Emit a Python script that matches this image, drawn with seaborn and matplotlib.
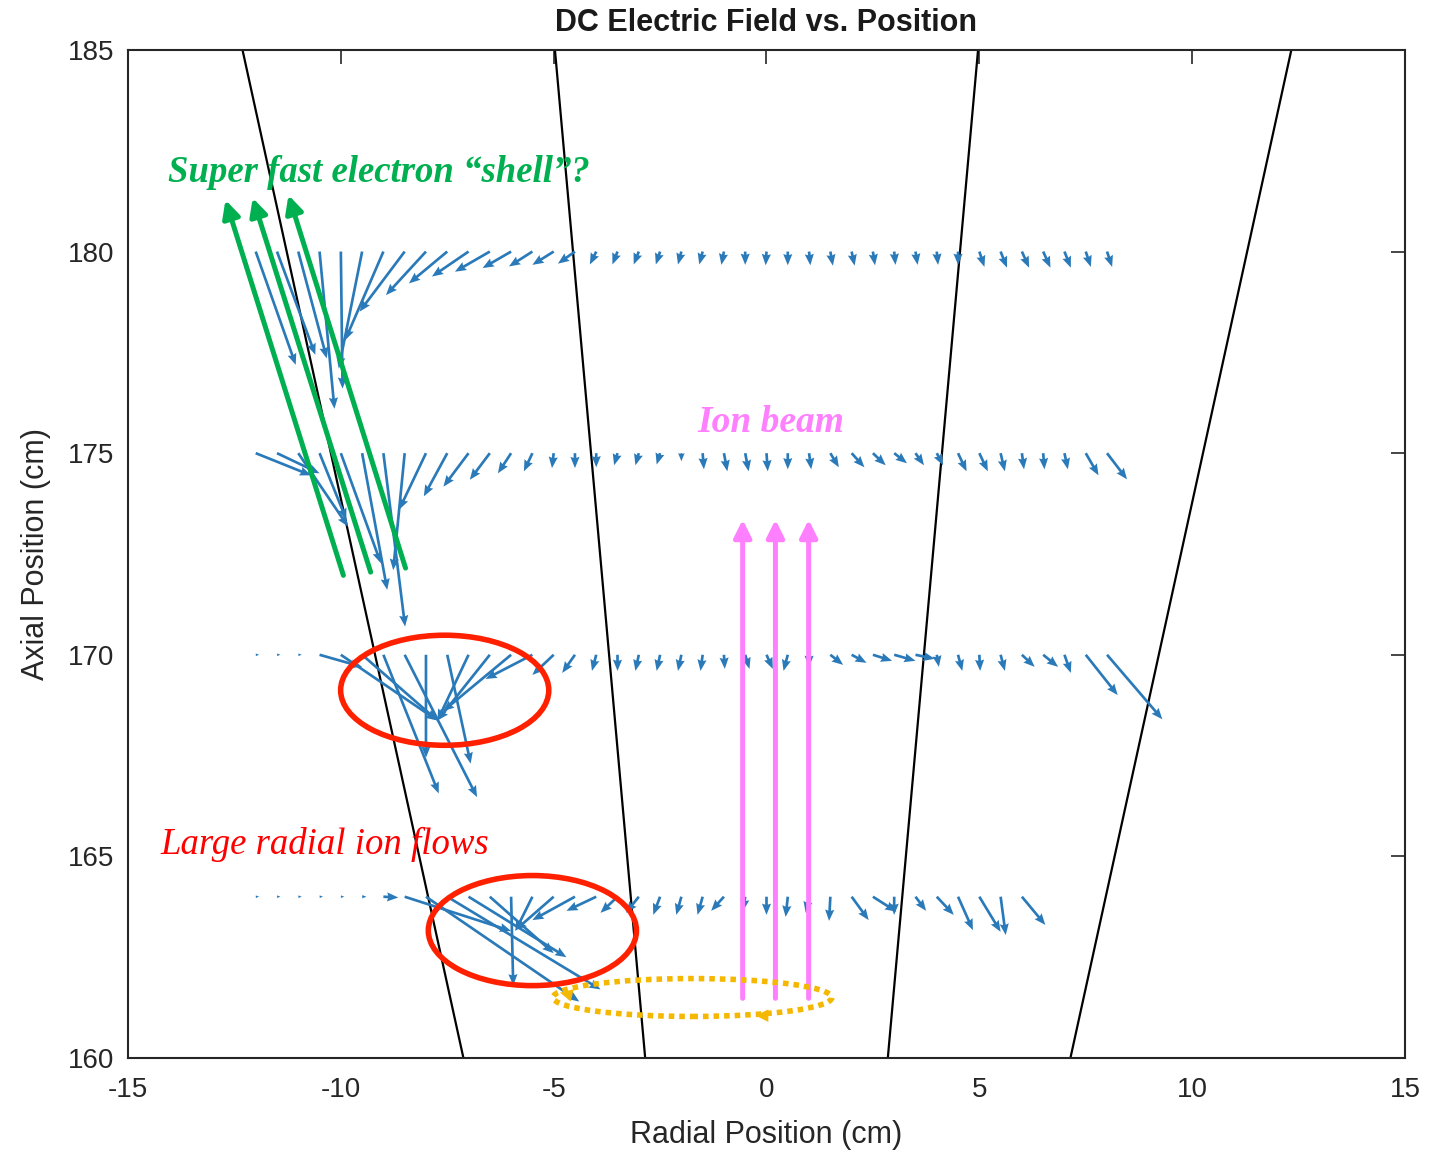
import numpy as np
import pandas as pd
import matplotlib
matplotlib.use("Agg")
import matplotlib.pyplot as plt
from matplotlib.patches import Ellipse
import seaborn as sns

# ---------------- data ----------------
x_grid = [-12.0, -11.5, -11.0, -10.5, -10.0, -9.5, -9.0, -8.5, -8.0, -7.5, -7.0,
          -6.5, -6.0, -5.5, -5.0, -4.5, -4.0, -3.5, -3.0, -2.5, -2.0, -1.5, -1.0,
          -0.5, 0.0, 0.5, 1.0, 1.5, 2.0, 2.5, 3.0, 3.5, 4.0, 4.5, 5.0, 5.5, 6.0,
          6.5, 7.0, 7.5, 8.0]
x_grid_164 = x_grid[:37]

u_180 = [0.94, 0.90, 0.67, 0.35, 0.04, -0.55, -0.90, -1.06, -0.94, -0.90, -0.86,
         -0.82, -0.67, -0.55, -0.50, -0.40, -0.15, -0.12, -0.12, -0.10, -0.08, -0.08, -0.06,
         0.00, -0.02, 0.00, 0.03, 0.06, 0.07, 0.05, 0.03, 0.05, 0.03, 0.00, 0.12, 0.15, 0.17,
         0.17, 0.15, 0.12, 0.12]
v_180 = [-2.81, -2.56, -2.65, -3.90, -3.40, -2.90, -2.20, -1.49, -1.08, -0.79, -0.62,
         -0.50, -0.41, -0.37, -0.33, -0.30, -0.32, -0.32, -0.32, -0.32, -0.32, -0.32, -0.33,
         -0.33, -0.34, -0.34, -0.34, -0.35, -0.35, -0.34, -0.33, -0.33, -0.33, -0.33, -0.38, -0.40, -0.40,
         -0.40, -0.40, -0.38, -0.38]

u_175 = [1.30, 1.00, 1.17, 0.63, 0.94, 0.59, 0.51, -0.27, -0.63, -0.55, -0.59,
         -0.47, -0.31, -0.20, -0.04, 0.00, 0.00, -0.08, -0.08, -0.08, 0.00, 0.03, 0.08,
         0.08, 0.03, 0.00, 0.05, 0.20, 0.30, 0.30, 0.30, 0.20, 0.15, 0.20, 0.20, 0.10, 0.05,
         0.03, 0.08, 0.30, 0.47]
v_175 = [-0.55, -0.50, -1.82, -1.65, -2.73, -3.39, -4.30, -2.90, -1.40, -1.07, -0.83,
         -0.66, -0.50, -0.45, -0.37, -0.37, -0.35, -0.30, -0.30, -0.28, -0.20, -0.40, -0.45,
         -0.45, -0.45, -0.40, -0.40, -0.35, -0.35, -0.30, -0.25, -0.30, -0.30, -0.45, -0.45, -0.45, -0.40,
         -0.40, -0.40, -0.55, -0.65]

u_170 = [0.08, 0.08, 0.08, 1.00, 2.27, 1.77, 1.30, 1.70, 0.00, 0.55, -0.73,
         -1.23, -1.60, -1.10, -0.50, -0.30, -0.10, 0.00, -0.08, -0.08, -0.08, -0.05, 0.02,
         0.10, 0.15, -0.10, 0.00, 0.30, 0.35, 0.45, 0.50, 0.45, 0.05, 0.10, 0.02, 0.10, 0.30,
         0.35, 0.15, 0.75, 1.30]
v_170 = [0.00, 0.00, 0.00, -0.30, -1.63, -1.63, -3.44, -3.53, -2.55, -2.70, -1.63,
         -1.63, -1.40, -0.60, -0.50, -0.45, -0.40, -0.40, -0.40, -0.40, -0.40, -0.40, -0.35,
         -0.35, -0.35, -0.40, -0.30, -0.25, -0.20, -0.15, -0.15, -0.10, -0.30, -0.40, -0.40, -0.40, -0.30,
         -0.30, -0.45, -1.00, -1.60]

u_164 = [0.08, 0.08, 0.08, 0.08, 0.08, 0.10, 0.35, 2.50, 3.60, 3.60, 2.30,
         1.50, 0.05, -0.40, -0.90, -1.00, -0.70, -0.40, -0.30, -0.16, -0.12, -0.12, -0.30,
         -0.05, 0.00, -0.05, -0.08, -0.03, 0.40, 0.55, 0.00, 0.25, 0.40, 0.35, 0.50, 0.12, 0.55]
v_164 = [0.00, 0.00, 0.00, 0.00, 0.00, 0.00, -0.02, -0.85, -2.60, -2.30, -1.50,
         -1.40, -2.20, -0.85, -0.83, -0.58, -0.35, -0.40, -0.40, -0.45, -0.45, -0.45, -0.35,
         -0.35, -0.45, -0.50, -0.40, -0.60, -0.58, -0.37, -0.45, -0.35, -0.45, -0.83, -0.87, -0.95, -0.70]

row_y = [180, 175, 170, 164]

# boundary (flux) lines: x at y=185 and y=160
line_y = [185, 160]
line1_x = [-12.31, -7.12]
line2_x = [-4.97, -2.85]
line3_x = [4.97, 2.85]
line4_x = [12.33, 7.14]

x_ticks = [-15, -10, -5, 0, 5, 10, 15]
y_ticks = [160, 165, 170, 175, 180, 185]

# ---------------- figure ----------------
sns.set_theme(style="white")
plt.rcParams['font.family'] = ['Liberation Sans', 'DejaVu Sans']

fig = plt.figure(figsize=(14.48, 11.51), dpi=100)
ax = fig.add_axes([0.0884, 0.0808, 0.8819, 0.8758])

# black lines via seaborn
for i, lx in enumerate([line1_x, line2_x, line3_x, line4_x]):
    df = pd.DataFrame({"x": lx, "y": line_y})
    sns.lineplot(data=df, x="x", y="y", ax=ax, color="black", lw=1.6,
                 sort=False, estimator=None)

# quiver rows
qcol = "#2a7ab9"
rows = [(x_grid, u_180, v_180, row_y[0]),
        (x_grid, u_175, v_175, row_y[1]),
        (x_grid, u_170, v_170, row_y[2]),
        (x_grid_164, u_164, v_164, row_y[3])]
for xs, us, vs, yv in rows:
    ys = [yv] * len(xs)
    ax.quiver(xs, ys, us, vs, angles="xy", scale_units="xy", scale=1,
              color=qcol, width=0.0021, headwidth=3.4, headlength=4.2,
              headaxislength=3.8, pivot="tail", zorder=3)

ax.set_xlim(-15, 15)
ax.set_ylim(160, 185)
ax.set_xticks(x_ticks)
ax.set_yticks(y_ticks)
ax.set_xticklabels([str(t) for t in x_ticks])
ax.set_yticklabels([str(t) for t in y_ticks])
ax.tick_params(axis="x", pad=14)
ax.tick_params(axis="y", pad=10)
ax.tick_params(direction="in", top=True, right=True, length=10, width=1.2,
               labelsize=20, colors="#262626")
for sp in ax.spines.values():
    sp.set_color("#262626")
    sp.set_linewidth(1.5)

ax.set_xlabel("Radial Position (cm)", fontsize=22, color="#262626", labelpad=12)
ax.set_ylabel("Axial Position (cm)", fontsize=22, color="#262626", labelpad=12)
ax.set_title("DC Electric Field vs. Position", fontsize=22, fontweight="bold",
             color="#1a1a1a", pad=14)

# ---------------- annotations ----------------
green = "#00B050"
pink = "#FF80FF"
red = "#FF2000"
gold = "#F5B800"

green_arrows = [((-9.94, 171.97), (-12.71, 181.28)),
                ((-9.30, 172.05), (-12.07, 181.33)),
                ((-8.48, 172.15), (-11.23, 181.40))]
for (x0, y0), (x1, y1) in green_arrows:
    ax.annotate("", xy=(x1, y1), xytext=(x0, y0),
                arrowprops=dict(arrowstyle="-|>", lw=3.6, color=green,
                                mutation_scale=26, shrinkA=0, shrinkB=0), zorder=5)

pink_x = [-0.56, 0.21, 0.99]
for px in pink_x:
    ax.annotate("", xy=(px, 173.35), xytext=(px, 161.48),
                arrowprops=dict(arrowstyle="-|>", lw=3.6, color=pink,
                                mutation_scale=26, shrinkA=0, shrinkB=0), zorder=5)

ax.add_patch(Ellipse((-7.56, 169.12), 4.89, 2.73, fill=False, ec=red, lw=4.0, zorder=6))
ax.add_patch(Ellipse((-5.50, 163.16), 4.89, 2.73, fill=False, ec=red, lw=4.0, zorder=6))
ax.add_patch(Ellipse((-1.74, 161.50), 6.55, 0.94, fill=False, ec=gold, lw=4.0,
                     ls=(0, (1.0, 0.9)), zorder=6))
ax.annotate("", xy=(-4.85, 161.62), xytext=(-4.55, 161.55),
            arrowprops=dict(arrowstyle="-|>", lw=0.1, color=gold,
                            mutation_scale=22, shrinkA=0, shrinkB=0), zorder=6)
ax.annotate("", xy=(-0.25, 161.05), xytext=(0.1, 161.05),
            arrowprops=dict(arrowstyle="-|>", lw=0.1, color=gold,
                            mutation_scale=22, shrinkA=0, shrinkB=0), zorder=6)

serif = ["Liberation Serif", "DejaVu Serif"]
ax.text(-14.05, 181.95, "Super fast electron \u201cshell\u201d?", color=green,
        fontsize=26.5, fontweight="bold", fontstyle="italic", family=serif,
        ha="left", va="center", zorder=7)
ax.text(0.09, 175.77, "Ion beam", color=pink, fontsize=27, fontweight="bold",
        fontstyle="italic", family=serif, ha="center", va="center", zorder=7)
ax.text(-14.24, 165.3, "Large radial ion flows", color="#FF0000", fontsize=26.5,
        fontstyle="italic", family=serif, ha="left", va="center", zorder=7)

fig.savefig("out.png", dpi=100)
